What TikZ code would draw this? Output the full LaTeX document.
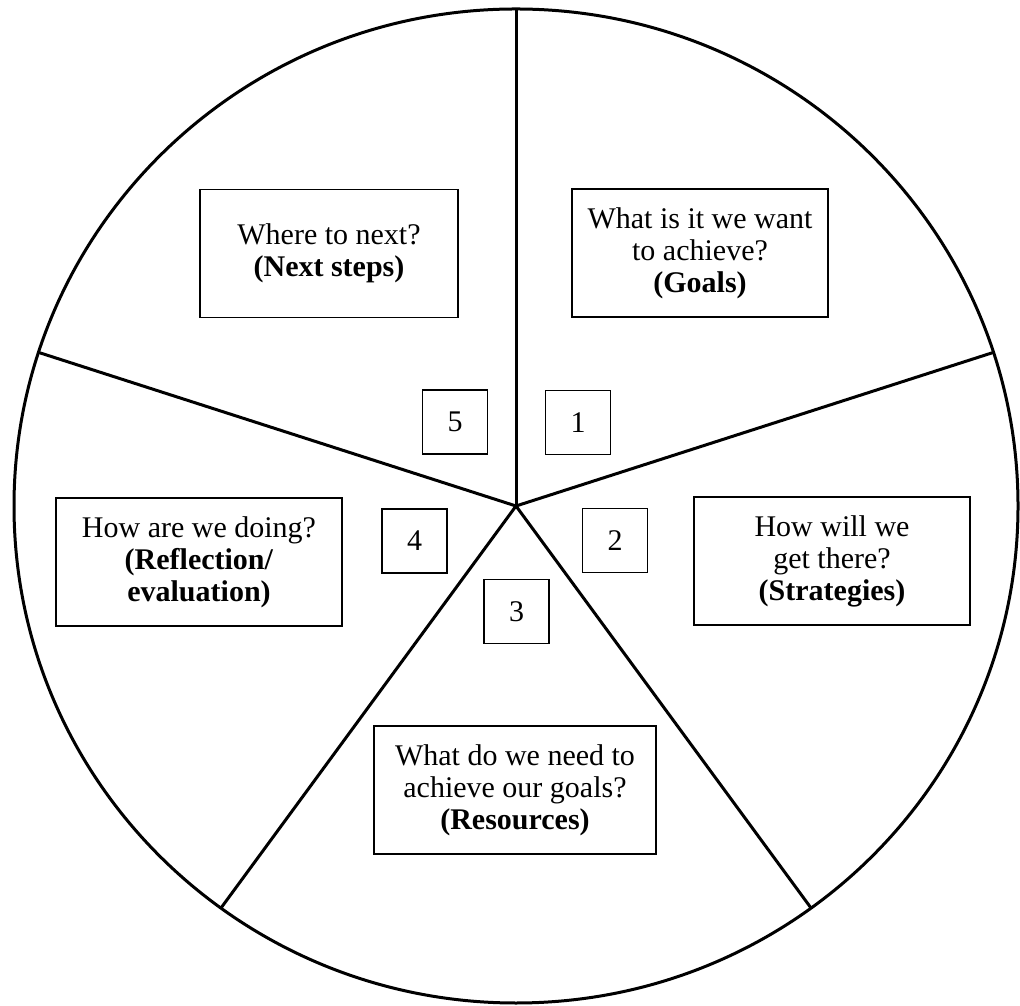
\documentclass[tikz,border=0pt]{standalone}
\usepackage{fontspec}
\setmainfont{Liberation Serif}
\begin{document}
\begin{tikzpicture}[x=0.5pt,y=0.5pt,
    spoke/.style={line width=1.5pt},
    question/.style={draw,line width=0.8pt,align=center,inner sep=0pt,
      minimum height=64pt,font=\fontsize{15}{16}\selectfont},
    numbox/.style={draw,line width=0.8pt,minimum width=32.5pt,minimum height=32pt,
      inner sep=0pt,font=\fontsize{15}{16}\selectfont}]
  \useasboundingbox (0,0) rectangle (1020,1005);
  %\draw[help lines] (0,0) grid (1020,1005);
  \coordinate (hub) at (516,499);
  \draw[spoke] (hub) ellipse [x radius=502, y radius=497];
  \foreach \a [count=\i] in {90,18,-54,-126,162}
  {
    \coordinate (rim\i) at ([shift={(\a:502 and 497)}]hub);
    \draw[spoke] (hub) -- (rim\i);
  }
  % les questions
  \node[question,minimum width=128pt] (goals) at (700,752)
    {What is it we want\\to achieve?\\\textbf{(Goals)}};
  \node[question,minimum width=129pt] (next) at (329,751.5)
    {Where to next?\\\textbf{(Next steps)}};
  \node[question,minimum width=138pt] (strat) at (832,444)
    {How will we\\get there?\\\textbf{(Strategies)}};
  \node[question,minimum width=143pt] (refl) at (199,443)
    {How are we doing?\\\textbf{(Reflection/}\\\textbf{evaluation)}};
  \node[question,minimum width=141pt] (res) at (515,215)
    {What do we need to\\achieve our goals?\\\textbf{(Resources)}};
  % les numeros
  \node[numbox] (n1) at (578,582.5) {1};
  \node[numbox] (n2) at (615,464.5) {2};
  \node[numbox] (n3) at (516.5,393.5) {3};
  \node[numbox] (n4) at (414.5,464) {4};
  \node[numbox] (n5) at (455,583) {5};
\end{tikzpicture}
\end{document}
